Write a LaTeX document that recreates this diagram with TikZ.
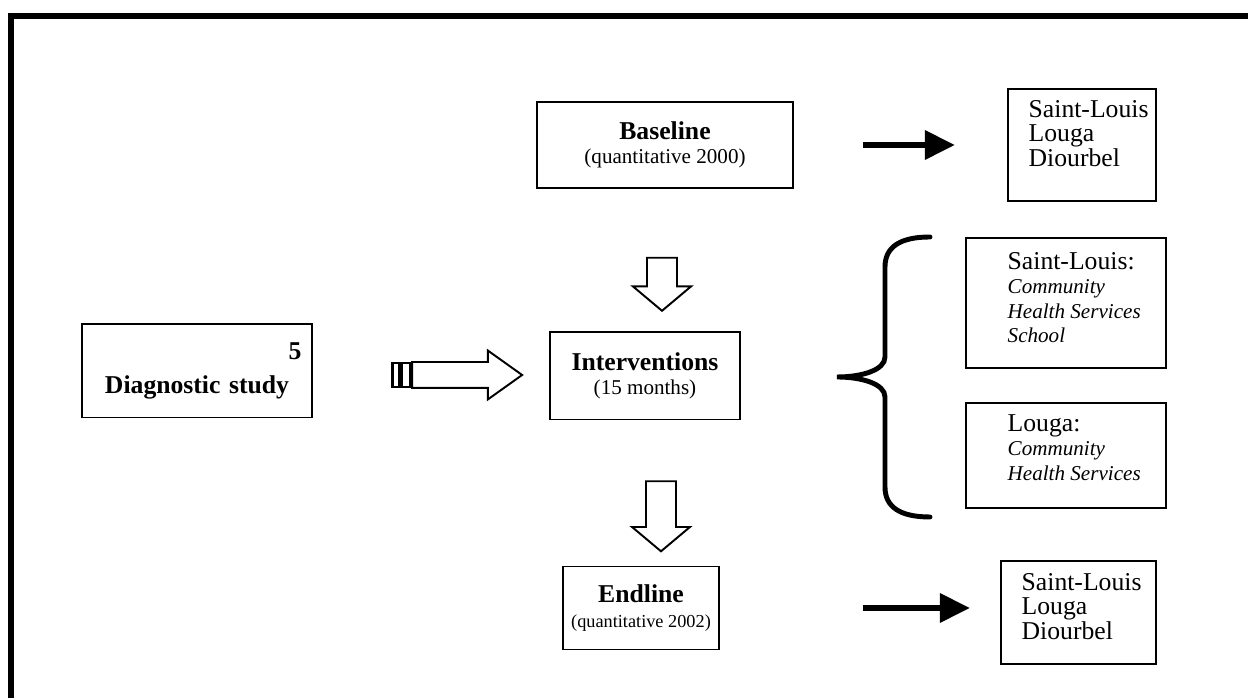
\documentclass[tikz,border=0pt]{standalone}
\usepackage{fontspec}
\setmainfont{Liberation Serif}
\usetikzlibrary{arrows.meta,positioning,calc,shapes.arrows}
\newcommand\smalltxt{\fontsize{6}{6.9}\selectfont}
\newcommand\tinytxt{\fontsize{5.2}{6.9}\selectfont}

\begin{document}
\begin{tikzpicture}[
  x=0.01cm,y=-0.01cm,
  font=\fontsize{7.3}{6.9}\selectfont,
  >=Latex,
  box/.style={draw,line width=0.55pt,inner sep=0pt,align=center},
  sitebox/.style={draw,line width=0.55pt,anchor=north west,inner sep=0pt},
  sitetext/.style={align=left,anchor=north west,inner sep=0pt},
  hollow/.style={single arrow,draw,line width=0.55pt,inner xsep=0pt,inner ysep=0.14cm,
    minimum width=0.56cm,single arrow head extend=0.14cm,single arrow tip angle=100},
  link/.style={-{Triangle[length=0.3cm,width=0.28cm]},line width=1.8pt},
  brace/.style={line width=1.4pt,line cap=round},
  frame/.style={line width=1.6pt}
]
\useasboundingbox (0,0) rectangle (1248,698);
% page frame
\draw[frame] (11,698) -- (11,16) -- (1248,16);

% main column
\node[box,minimum width=2.56cm,minimum height=0.86cm] (base) at (665,145)
  {\textbf{Baseline}\\{\smalltxt(quantitative 2000)}};
\node[box,minimum width=1.90cm,minimum height=0.87cm] (inter) at (645,376)
  {\textbf{Interventions}\\{\smalltxt(15 months)}};
\node[box,minimum width=1.56cm,minimum height=0.83cm] (endl) at (641,608)
  {\textbf{Endline}\\{\tinytxt(quantitative 2002)}};

% diagnostic study
\node[box,text width=2.09cm,inner xsep=0.1cm,minimum height=0.93cm] (diag) at (197,371)
  {\textbf{\hfill 5}\\[0.1cm]\textbf{Diagnostic study}};

% hollow arrows
\node[hollow,rotate=-90,minimum height=0.53cm] (down1) at (662,278) {};
\node[hollow,rotate=-90,minimum height=0.70cm] (down2) at (661,510) {};
\node[hollow,inner ysep=0.12cm,minimum width=0.47cm,single arrow head extend=0.115cm,
  single arrow tip angle=71,minimum height=1.10cm] (feed) at (458,375) {};
\draw[line width=0.8pt] ($(feed.tail)+(-19,-12)$) rectangle ($(feed.tail)+(-12,12)$);
\draw[line width=0.8pt] ($(feed.tail)+(-10,-12)$) rectangle ($(feed.tail)+(-1,12)$);

% sites
\node[sitebox,minimum width=1.48cm,minimum height=1.12cm] (topsites) at (1007,88) {};
\node[sitetext] (toptxt) at ($(topsites.north west)+(21,12)$) {Saint-Louis\\Louga\\Diourbel};
\node[sitebox,minimum width=2.00cm,minimum height=1.30cm] (slbox) at (965,237) {};
\node[sitetext] (sltxt) at ($(slbox.north west)+(42,15)$) {Saint-Louis:\\
  {\smalltxt\itshape Community}\\{\smalltxt\itshape Health Services}\\{\smalltxt\itshape School}};
\node[sitebox,minimum width=2.00cm,minimum height=1.05cm] (lgbox) at (965,402) {};
\node[sitetext] (lgtxt) at ($(lgbox.north west)+(42,12)$) {Louga:\\
  {\smalltxt\itshape Community}\\{\smalltxt\itshape Health Services}};
\node[sitebox,minimum width=1.55cm,minimum height=1.03cm] (botsites) at (1000,560) {};
\node[sitetext] (bottxt) at ($(botsites.north west)+(21,13)$) {Saint-Louis\\Louga\\Diourbel};

% brace
\draw[brace] (930,237) .. controls (900,237) and (885,247) .. (885,267) -- (885,357)
  .. controls (885,370) and (862,377) .. (837,377)
  .. controls (862,377) and (885,384) .. (885,397) -- (885,487)
  .. controls (885,507) and (900,517) .. (930,517);

% connectors
\draw[link,shorten <=0.69cm,shorten >=0.52cm] (base.east) -- (base.east -| topsites.west);
\draw[link,shorten <=1.43cm,shorten >=0.30cm] (endl.east) -- (endl.east -| botsites.west);
\end{tikzpicture}
\end{document}
